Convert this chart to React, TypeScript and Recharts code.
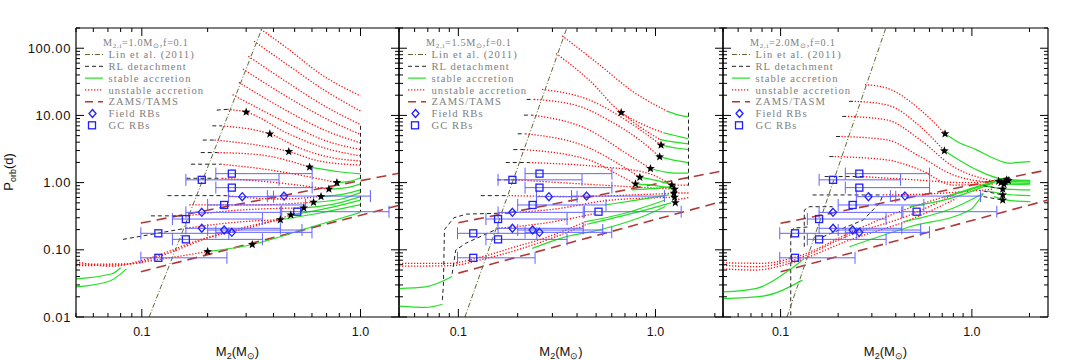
import React from "react"
import { ComposedChart, Line, Scatter, XAxis, YAxis, ErrorBar, ReferenceLine, Legend } from "recharts"

type Pt = [number, number]
type Rb = [number, number, number, number] // M2, Porb, M2 low, M2 high

// Lin et al. (2011) line, same in every panel
const LIN: Pt[] = [[0.108, 0.01], [0.355, 200]]

// redback observations (shared by all panels)
const GC_RBS: Rb[] = [
  [0.258, 1.36, 0.218, 0.601],
  [0.188, 1.1, 0.159, 0.424],
  [0.258, 0.842, 0.218, 0.601],
  [0.238, 0.465, 0.2, 0.561],
  [0.514, 0.369, 0.436, 1.35],
  [0.159, 0.287, 0.138, 0.356],
  [0.119, 0.176, 0.099, 0.25],
  [0.159, 0.143, 0.138, 0.356],
  [0.119, 0.076, 0.099, 0.245],
]
const FIELD_RBS: Rb[] = [
  [0.288, 0.618, 0.249, 0.4],
  [0.447, 0.63, 0.375, 1.11],
  [0.188, 0.361, 0.159, 0.43],
  [0.188, 0.209, 0.159, 0.43],
  [0.238, 0.197, 0.2, 0.54],
  [0.258, 0.182, 0.218, 0.6],
]

// ---- panel 1: M2,i = 1.0
const P1_UNSTABLE: Pt[][] = [
  [[0.35, 192], [0.47, 96], [0.645, 43], [1.0, 19.5]],
  [[0.326, 127], [0.47, 55], [0.68, 24], [1.0, 11.6]],
  [[0.307, 76], [0.47, 30], [0.68, 14], [1.0, 7.3]],
  [[0.29, 49], [0.47, 18.3], [0.68, 9.3], [1.0, 5.2]],
  [[0.278, 31], [0.47, 11.3], [0.68, 6.1], [1.0, 3.9]],
  [[0.26, 20.4], [0.47, 7.5], [0.68, 4.3], [1.0, 3.1]],
  [[0.246, 12.3], [0.3, 11.2], [0.47, 5.3], [0.68, 3.3], [1.0, 2.5]],
  [[0.23, 7.0], [0.385, 5.3], [0.523, 3.3], [0.717, 2.4], [1.0, 2.1]],
  [[0.215, 4.3], [0.47, 2.9], [0.645, 2.1], [1.0, 1.82]],
  [[0.222, 2.8], [0.344, 2.6], [0.585, 1.7]],
  [[0.229, 1.88], [0.382, 1.55], [0.78, 1.0]],
  [[0.233, 1.16], [0.424, 0.99], [0.717, 0.8]],
  [[0.243, 0.64], [0.424, 0.57], [0.66, 0.62]],
  [[0.165, 0.465], [0.31, 0.465], [0.61, 0.51]],
  [[0.16, 0.32], [0.28, 0.39], [0.55, 0.42]],
  [[0.16, 0.21], [0.28, 0.26], [0.43, 0.28]],
  [[0.05, 0.066], [0.073, 0.057], [0.108, 0.075], [0.183, 0.14], [0.344, 0.234], [0.48, 0.33]],
  [[0.05, 0.061], [0.088, 0.062], [0.12, 0.08], [0.2, 0.15], [0.3, 0.22], [0.43, 0.28]],
  [[0.05, 0.058], [0.08, 0.06], [0.12, 0.072], [0.2, 0.094]],
]
const P1_STABLE: Pt[][] = [
  [[0.585, 1.7], [0.8, 1.45], [1.0, 1.35]],
  [[0.78, 1.0], [0.9, 1.05], [1.0, 1.17]],
  [[0.717, 0.8], [0.88, 0.85], [1.0, 0.96]],
  [[0.66, 0.62], [0.85, 0.68], [1.0, 0.78]],
  [[0.61, 0.51], [0.8, 0.56], [1.0, 0.71]],
  [[0.55, 0.42], [0.8, 0.5], [1.0, 0.62]],
  [[0.48, 0.33], [0.717, 0.42], [1.0, 0.55]],
  [[0.43, 0.28], [0.645, 0.35], [1.0, 0.47]],
  [[0.2, 0.094], [0.32, 0.12], [0.6, 0.22], [1.0, 0.36]],
  [[0.05, 0.037], [0.073, 0.044], [0.08, 0.054]],
  [[0.05, 0.028], [0.071, 0.034], [0.085, 0.052]],
]
const P1_RL: Pt[][] = [
  [[0.22, 12], [0.246, 12.3]],
  [[0.21, 7.0], [0.23, 7.0]],
  [[0.19, 4.3], [0.215, 4.3]],
  [[0.186, 2.8], [0.222, 2.8]],
  [[0.168, 1.88], [0.229, 1.88]],
  [[0.16, 1.16], [0.233, 1.16]],
  [[0.131, 0.64], [0.243, 0.64]],
  [[0.11, 0.32], [0.16, 0.32]],
  [[0.082, 0.143], [0.16, 0.21]],
  [[1.0, 7], [1.0, 0.37]],
]
const P1_ZAMS: Pt[][] = [
  [[0.099, 0.25], [1.5, 1.38]],
  [[0.099, 0.047], [1.5, 0.46]],
]
const P1_STARS: Pt[] = [
  [0.3, 11.2], [0.385, 5.3], [0.47, 2.9], [0.585, 1.7], [0.78, 1.0], [0.717, 0.8], [0.66, 0.62],
  [0.61, 0.51], [0.55, 0.42], [0.48, 0.33], [0.43, 0.28], [0.32, 0.12], [0.2, 0.094],
]

// ---- panel 2: M2,i = 1.5
const P2_UNSTABLE: Pt[][] = [
  [[0.336, 153], [0.516, 57.7], [0.761, 23.1], [1.145, 11.6]],
  [[0.313, 83.4], [0.459, 34], [0.67, 11], [0.85, 7.5], [1.1, 5.5]],
  [[0.67, 11], [0.85, 6.5], [1.05, 4.4]],
  [[0.266, 24.4], [0.459, 17.1], [0.732, 8.0], [1.067, 3.62]],
  [[0.242, 17.3], [0.4, 14], [0.6, 8], [0.85, 4.1], [1.05, 2.42]],
  [[0.237, 10.1], [0.459, 6.1], [0.7, 2.8], [0.943, 1.62]],
  [[0.219, 5.33], [0.459, 3.3], [0.65, 1.9], [0.833, 1.2]],
  [[0.215, 3.1], [0.459, 2.18], [0.65, 1.3], [0.792, 0.956]],
  [[0.228, 1.99], [0.516, 1.73], [0.9, 1.4], [1.21, 0.92]],
  [[0.195, 1.1], [0.6, 0.9], [1.25, 0.797]],
  [[0.18, 0.64], [0.4, 0.62], [0.8, 0.66], [1.25, 0.695]],
  [[0.16, 0.35], [0.3, 0.4], [0.6, 0.55], [1.25, 0.605]],
  [[0.16, 0.209], [0.3, 0.26], [0.5, 0.35]],
  [[0.05, 0.063], [0.09, 0.063], [0.132, 0.079], [0.195, 0.111], [0.256, 0.14], [0.442, 0.262]],
  [[0.05, 0.057], [0.09, 0.058], [0.14, 0.075], [0.2, 0.1], [0.3, 0.15], [0.45, 0.24]],
  [[1.25, 0.92], [1.47, 0.92]],
  [[1.26, 0.7], [1.47, 0.7]],
  [[1.26, 0.55], [1.47, 0.6]],
]
const P2_STABLE: Pt[][] = [
  [[1.145, 11.6], [1.3, 10.2], [1.47, 9.5]],
  [[1.1, 5.5], [1.3, 4.9], [1.47, 4.5]],
  [[1.05, 4.4], [1.25, 4.0], [1.47, 3.78]],
  [[1.067, 3.62], [1.3, 3.25], [1.47, 3.1]],
  [[1.05, 2.42], [1.3, 2.1], [1.47, 1.97]],
  [[0.943, 1.62], [1.2, 1.4], [1.47, 1.38]],
  [[0.833, 1.2], [1.05, 1.05], [1.21, 0.92]],
  [[0.792, 0.956], [1.0, 0.9], [1.25, 0.8]],
  [[0.237, 0.105], [0.35, 0.156], [0.516, 0.197], [0.9, 0.33], [1.12, 0.44]],
  [[0.442, 0.262], [0.7, 0.35], [1.12, 0.55]],
  [[0.45, 0.24], [0.8, 0.36], [1.2, 0.5]],
  [[0.558, 0.465], [0.8, 0.55], [1.17, 0.655]],
  [[0.76, 0.78], [1.0, 0.82], [1.21, 0.87]],
  [[0.05, 0.0265], [0.068, 0.028], [0.093, 0.04]],
  [[0.05, 0.0145], [0.068, 0.0139], [0.083, 0.0155]],
]
const P2_RL: Pt[][] = [
  [[0.222, 17.3], [0.242, 17.3]],
  [[0.215, 10.1], [0.237, 10.1]],
  [[0.2, 5.33], [0.219, 5.33]],
  [[0.19, 3.1], [0.215, 3.1]],
  [[0.174, 1.99], [0.228, 1.99]],
  [[0.157, 1.1], [0.195, 1.1]],
  [[0.13, 0.64], [0.18, 0.64]],
  [[0.083, 0.018], [0.084, 0.03], [0.085, 0.2], [0.095, 0.3], [0.11, 0.34], [0.16, 0.35]],
  [[0.093, 0.044], [0.097, 0.099], [0.109, 0.125], [0.16, 0.209]],
  [[1.47, 11], [1.47, 0.9]],
]
const P2_ZAMS: Pt[][] = [
  [[0.1, 0.253], [2.2, 1.5]],
  [[0.1, 0.045], [2.2, 0.53]],
]
const P2_STARS: Pt[] = [
  [0.67, 11.0], [1.067, 3.62], [1.05, 2.42], [0.943, 1.62], [0.833, 1.2], [0.792, 0.956],
  [1.21, 0.92], [1.25, 0.797], [1.24, 0.695], [1.25, 0.605], [1.26, 0.503],
]

// ---- panel 3: M2,i = 2.0
const P3_UNSTABLE: Pt[][] = [
  [[0.276, 28.7], [0.358, 25.6], [0.536, 12.2], [0.724, 5.33]],
  [[0.244, 16.2], [0.358, 14.4], [0.536, 6.85], [0.718, 2.97]],
  [[0.225, 9.66], [0.358, 8.6], [0.536, 4.34], [0.8, 1.73], [1.3, 1.05]],
  [[0.208, 4.86], [0.358, 4.34], [0.536, 2.44], [0.8, 1.3], [1.3, 1.0]],
  [[0.192, 2.44], [0.358, 2.18], [0.536, 1.55], [0.8, 0.92], [1.3, 0.95]],
  [[0.27, 1.23], [0.5, 1.1], [0.9, 1.0], [1.4, 1.05]],
  [[0.343, 0.655], [0.6, 0.68], [1.0, 0.75], [1.3, 0.8]],
  [[0.05, 0.059], [0.074, 0.056], [0.116, 0.07], [0.23, 0.166], [0.475, 0.33], [0.83, 0.69]],
  [[0.05, 0.052], [0.074, 0.05], [0.116, 0.065], [0.23, 0.14], [0.475, 0.28], [0.83, 0.58]],
  [[0.05, 0.064], [0.08, 0.063], [0.12, 0.078], [0.25, 0.2], [0.45, 0.4], [0.7, 0.6], [1.0, 0.8]],
]
const P3_STABLE: Pt[][] = [
  [[0.724, 5.33], [0.85, 4.0], [1.06, 3.07], [1.3, 2.3], [1.59, 1.94], [1.7, 1.98], [2.02, 2.05]],
  [[0.718, 2.97], [0.85, 2.2], [1.06, 1.55], [1.4, 1.15], [2.02, 1.05]],
  [[1.42, 1.1], [2.02, 1.08]],
  [[1.42, 1.05], [2.02, 1.02]],
  [[1.42, 1.0], [2.02, 0.97]],
  [[1.42, 0.95], [2.02, 0.93]],
  [[1.15, 0.9], [1.5, 0.8], [2.02, 0.78]],
  [[1.2, 0.75], [1.6, 0.66], [2.02, 0.64]],
  [[1.3, 0.62], [1.6, 0.54], [2.02, 0.52]],
  [[0.229, 0.111], [0.473, 0.22], [0.976, 0.39], [1.146, 0.69]],
  [[0.436, 0.26], [0.83, 0.438], [1.146, 0.69]],
  [[0.473, 0.438], [0.83, 0.62], [1.4, 1.1]],
  [[0.7, 0.6], [1.0, 0.8], [1.4, 1.1]],
  [[0.83, 0.69], [1.1, 0.9], [1.42, 1.12]],
  [[0.05, 0.0236], [0.074, 0.0265], [0.111, 0.05], [0.13, 0.07]],
  [[0.05, 0.0188], [0.081, 0.0205], [0.13, 0.0354]],
]
const P3_RL: Pt[][] = [
  [[0.228, 16.2], [0.244, 16.2]],
  [[0.21, 9.66], [0.225, 9.66]],
  [[0.195, 4.86], [0.208, 4.86]],
  [[0.18, 2.44], [0.192, 2.44]],
  [[0.17, 1.23], [0.27, 1.23]],
  [[0.147, 0.655], [0.343, 0.655]],
  [[0.113, 0.0106], [0.113, 0.186], [0.117, 0.21], [0.142, 0.22]],
  [[0.133, 0.111], [0.133, 0.39], [0.141, 0.438], [0.187, 0.438]],
  [[0.166, 0.156], [0.27, 0.277], [0.33, 0.5], [0.343, 0.655]],
  [[1.15, 0.9], [1.45, 0.8]],
  [[1.15, 0.75], [1.45, 0.655]],
  [[1.15, 0.62], [1.45, 0.55]],
]
const P3_ZAMS: Pt[][] = [
  [[0.1, 0.248], [2.5, 1.55]],
  [[0.1, 0.047], [2.5, 0.55]],
]
const P3_STARS: Pt[] = [
  [0.724, 5.33], [0.718, 2.97], [1.49, 1.03], [1.45, 0.8], [1.45, 0.655], [1.45, 0.55],
  [1.38, 1.05], [1.42, 1.0], [1.52, 1.1], [1.47, 0.95], [1.55, 1.07],
]

// axis ticks
const X_TICKS = [0.05, 0.06, 0.07, 0.08, 0.09, 0.1, 0.2, 0.3, 0.4, 0.5, 0.6, 0.7, 0.8, 0.9, 1, 2]
const X_LABELS: Record<string, string> = { "0.1": "0.1", "1": "1.0" }
const Y_TICKS = [
  0.01, 0.02, 0.03, 0.04, 0.05, 0.06, 0.07, 0.08, 0.09,
  0.1, 0.2, 0.3, 0.4, 0.5, 0.6, 0.7, 0.8, 0.9,
  1, 2, 3, 4, 5, 6, 7, 8, 9,
  10, 20, 30, 40, 50, 60, 70, 80, 90,
  100, 200,
]
const Y_LABELS: Record<string, string> = { "0.01": "0.01", "0.1": "0.10", "1": "1.00", "10": "10.00", "100": "100.00" }

const PANELS = [
  { left: 76, right: 399, xMax: 1.5, mass: "1.0", zams: "ZAMS/TAMS", unstable: P1_UNSTABLE, stable: P1_STABLE, rl: P1_RL, zamsLines: P1_ZAMS, stars: P1_STARS, yLabels: true },
  { left: 399, right: 723, xMax: 2.2, mass: "1.5", zams: "ZAMS/TAMS", unstable: P2_UNSTABLE, stable: P2_STABLE, rl: P2_RL, zamsLines: P2_ZAMS, stars: P2_STARS, yLabels: false },
  { left: 723, right: 1048, xMax: 2.5, mass: "2.0", zams: "ZAMS/TASM", unstable: P3_UNSTABLE, stable: P3_STABLE, rl: P3_RL, zamsLines: P3_ZAMS, stars: P3_STARS, yLabels: false },
]

const W = 1080
const H = 360
const TOP = 28
const BOTTOM = 317

const SANS = "'Liberation Sans', Arial, sans-serif"
const SERIF = "'Liberation Serif', 'Times New Roman', serif"
const RED = "#ff1010"
const GREEN = "#22e022"
const OLIVE = "#5c6b32"
const BROWN = "#b03838"
const BLUE = "#1f1fff"

const pts = (a: Pt[]) => a.map(([m, p]) => ({ m, p }))
const rbs = (a: Rb[]) => a.map(([m, p, lo, hi]) => ({ m, p, ex: [m - lo, hi - m] }))

const starShape = (props: any) => {
  const { cx, cy } = props
  const v: string[] = []
  for (let i = 0; i < 10; i++) {
    const r = i % 2 === 0 ? 4.6 : 1.9
    const a = -Math.PI / 2 + (i * Math.PI) / 5
    v.push(`${cx + r * Math.cos(a)},${cy + r * Math.sin(a)}`)
  }
  return <polygon points={v.join(" ")} fill="#000" />
}
const diamondShape = (props: any) => {
  const { cx, cy } = props
  return <path d={`M${cx},${cy - 4}L${cx + 3.5},${cy}L${cx},${cy + 4}L${cx - 3.5},${cy}Z`} fill="none" stroke={BLUE} strokeWidth={1.3} />
}
const squareShape = (props: any) => {
  const { cx, cy } = props
  return <rect x={cx - 3.5} y={cy - 3.5} width={7} height={7} fill="none" stroke={BLUE} strokeWidth={1.3} />
}

function LegendBox({ mass, zams }: { mass: string; zams: string }) {
  const rows = ["Lin et al. (2011)", "RL detachment", "stable accretion", "unstable accretion", zams, "Field RBs", "GC RBs"]
  const y = (i: number) => 19.5 + i * 11.8
  const text = { fontFamily: SERIF, fontSize: 10.6, fill: "#808080", letterSpacing: 1.05 }
  return (
    <svg width={170} height={100} style={{ display: "block" }}>
      <text x={22} y={10.5} {...text} fontSize={10.2} letterSpacing={0.7}>
        M<tspan fontSize={7} dy={2}>2,i</tspan>
        <tspan dy={-2}>={mass}M</tspan>
        <tspan fontSize={7} dy={2}>⊙</tspan>
        <tspan dy={-2}>,f=0.1</tspan>
      </text>
      <line x1={4} x2={22} y1={y(0)} y2={y(0)} stroke={OLIVE} strokeDasharray="5 2 1 2" />
      <line x1={4} x2={22} y1={y(1)} y2={y(1)} stroke="#222" strokeDasharray="4 3" />
      <line x1={4} x2={22} y1={y(2)} y2={y(2)} stroke={GREEN} strokeWidth={1.2} />
      <line x1={4} x2={22} y1={y(3)} y2={y(3)} stroke={RED} strokeWidth={1.3} strokeDasharray="1.3 1.7" />
      <line x1={4} x2={22} y1={y(4)} y2={y(4)} stroke={BROWN} strokeWidth={1.6} strokeDasharray="8 5" />
      {diamondShape({ cx: 11.5, cy: y(5) })}
      {squareShape({ cx: 11, cy: y(6) })}
      {rows.map((r, i) => (
        <text key={r} x={27.5} y={y(i) + 3.6} {...text}>{r}</text>
      ))}
    </svg>
  )
}

function Panel({ cfg }: { cfg: (typeof PANELS)[number] }) {
  const xTicks = X_TICKS.filter((t) => t <= cfg.xMax)
  const center = (cfg.left + cfg.right) / 2

  const xTick = (props: any) => {
    const { x, payload } = props
    const lab = X_LABELS[String(payload.value)]
    const len = lab ? 8 : 4
    return (
      <g>
        <line x1={x} x2={x} y1={BOTTOM} y2={BOTTOM - len} stroke="#000" />
        <line x1={x} x2={x} y1={TOP} y2={TOP + len} stroke="#000" />
        {lab && (
          <text x={x} y={BOTTOM + 19} textAnchor="middle" fontFamily={SANS} fontSize={12.5} fill="#111">{lab}</text>
        )}
      </g>
    )
  }
  const yTick = (props: any) => {
    const { y, payload } = props
    const lab = Y_LABELS[String(payload.value)]
    const len = lab ? 8 : 4
    return (
      <g>
        <line x1={cfg.left} x2={cfg.left + len} y1={y} y2={y} stroke="#000" />
        <line x1={cfg.right} x2={cfg.right - len} y1={y} y2={y} stroke="#000" />
        {lab && cfg.yLabels && (
          <text x={cfg.left - 5} y={y + 4.5} textAnchor="end" fontFamily={SANS} fontSize={13} letterSpacing={0.6} fill="#111">{lab}</text>
        )}
      </g>
    )
  }
  const xTitle = () => (
    <text x={center} y={356} textAnchor="middle" fontFamily={SANS} fontSize={13} fill="#111">
      M<tspan fontSize={9} dy={3}>2</tspan>
      <tspan dy={-3}>(M</tspan>
      <tspan fontSize={9} dy={3}>⊙</tspan>
      <tspan dy={-3}>)</tspan>
    </text>
  )
  const yTitle = () =>
    cfg.yLabels ? (
      <text transform="translate(13,172) rotate(-90)" textAnchor="middle" fontFamily={SANS} fontSize={13} fill="#111">
        P<tspan fontSize={9} dy={3}>orb</tspan>
        <tspan dy={-3}>(d)</tspan>
      </text>
    ) : null

  const line = (t: Pt[], key: string, style: any, type: any = "monotone") => (
    <Line key={key} data={pts(t)} dataKey="p" type={type} dot={false} activeDot={false} isAnimationActive={false} {...style} />
  )

  return (
    <div style={{ position: "absolute", left: 0, top: 0 }}>
      <ComposedChart width={W} height={H} margin={{ top: TOP, bottom: H - BOTTOM - 1, left: cfg.left - 1, right: W - cfg.right }}>
        <XAxis type="number" dataKey="m" scale="log" domain={[0.05, cfg.xMax]} allowDataOverflow ticks={xTicks} interval={0}
          tick={xTick} tickLine={false} tickSize={0} tickMargin={0} height={1} axisLine={{ stroke: "#000", strokeWidth: 1.2 }} label={xTitle} />
        <YAxis type="number" dataKey="p" scale="log" domain={[0.01, 200]} allowDataOverflow ticks={Y_TICKS} interval={0}
          tick={yTick} tickLine={false} tickSize={0} tickMargin={0} width={1} axisLine={{ stroke: "#000", strokeWidth: 1.2 }} label={yTitle} />
        <ReferenceLine y={200} stroke="#000" strokeWidth={1.2} ifOverflow="visible" />
        <ReferenceLine x={cfg.xMax} stroke="#000" strokeWidth={1.2} ifOverflow="visible" />

        {cfg.zamsLines.map((t, i) => line(t, "z" + i, { stroke: BROWN, strokeWidth: 1.6, strokeDasharray: "10 6" }, "linear"))}
        {cfg.unstable.map((t, i) => line(t, "u" + i, { stroke: RED, strokeWidth: 1.3, strokeDasharray: "1.3 1.7" }))}
        {cfg.stable.map((t, i) => line(t, "s" + i, { stroke: GREEN, strokeWidth: 1.2 }))}
        {cfg.rl.map((t, i) => line(t, "r" + i, { stroke: "#222", strokeWidth: 1, strokeDasharray: "4 3" }, "linear"))}
        {line(LIN, "lin", { stroke: OLIVE, strokeWidth: 1, strokeDasharray: "5 2 1 2" }, "linear")}

        <Scatter data={rbs(GC_RBS)} shape={squareShape} isAnimationActive={false}>
          <ErrorBar dataKey="ex" direction="x" width={6} stroke="#6262ff" strokeWidth={1} isAnimationActive={false} />
        </Scatter>
        <Scatter data={rbs(FIELD_RBS)} shape={diamondShape} isAnimationActive={false}>
          <ErrorBar dataKey="ex" direction="x" width={6} stroke="#6262ff" strokeWidth={1} isAnimationActive={false} />
        </Scatter>
        <Scatter data={pts(cfg.stars)} shape={starShape} isAnimationActive={false} />

        <Legend layout="horizontal" verticalAlign="middle" align="center"
          wrapperStyle={{ left: cfg.left + 5, top: 35, width: 170, height: 100 }}
          content={() => <LegendBox mass={cfg.mass} zams={cfg.zams} />} />
      </ComposedChart>
    </div>
  )
}

export default function App() {
  return (
    <div style={{ position: "absolute", left: 0, top: 0, width: W, height: H, background: "#fff" }}>
      {PANELS.map((cfg) => (
        <Panel key={cfg.mass} cfg={cfg} />
      ))}
    </div>
  )
}
